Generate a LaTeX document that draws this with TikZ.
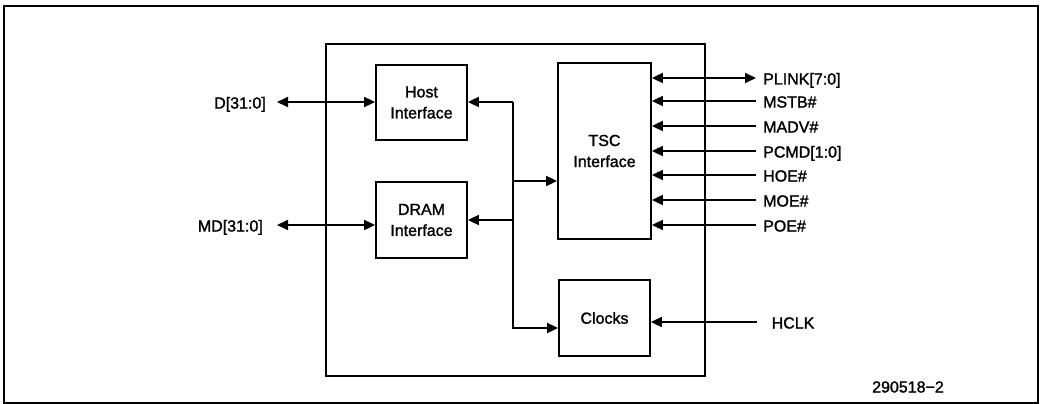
\documentclass[tikz,border=0pt]{standalone}
\usepackage{fontspec}
\setmainfont{Liberation Sans}[FakeBold=1.5]
\usetikzlibrary{arrows.meta}
\begin{document}
\begin{tikzpicture}[x=1pt,y=-1pt,
  wire/.style={line width=1.8pt},
  tipr/.style={wire,-{Triangle[length=11pt,width=10pt]}},
  tipb/.style={wire,{Triangle[length=11pt,width=10pt]}-{Triangle[length=11pt,width=10pt]}},
  txt/.style={font=\fontsize{16}{21}\selectfont,inner sep=0pt},
  blk/.style={draw,line width=1.8pt,inner sep=0pt,align=center,font=\fontsize{16}{21}\selectfont},
  sig/.style={txt,anchor=base west},
  lsig/.style={txt,anchor=base east}]
\useasboundingbox (0,0) rectangle (1042,404);
\draw[line width=1.2pt] (4,6) rectangle (1038,403);
% chip outline
\node[draw,line width=1.8pt,minimum width=379pt,minimum height=332pt,inner sep=0pt] (chip) at (515.5,210) {};
% blocks
\node[blk,minimum width=91pt,minimum height=75pt] (host) at (421.5,102.5) {Host\\Interface};
\node[blk,minimum width=91pt,minimum height=76pt] (dram) at (421.5,220) {DRAM\\Interface};
\node[blk,minimum width=93pt,minimum height=176pt] (tsc) at (604.5,151) {TSC\\Interface};
\node[blk,minimum width=91pt,minimum height=76pt] (clk) at (604.5,318) {\raisebox{-3pt}{Clocks}};
% left signals
\node[lsig] (dl) at (266,108.5) {D[31:0]};
\node[lsig] (mdl) at (263,231.5) {MD[31:0]};
\coordinate (dt) at (277,102);
\coordinate (mdt) at (277,225);
\draw[tipb] (dt) -- (host.west |- dt);
\draw[tipb] (mdt) -- (dram.west |- mdt);
% internal bus
\coordinate (bt) at (513,102);
\coordinate (bm) at (513,220);
\coordinate (bc) at (513,181);
\coordinate (bb) at (513,328);
\draw[tipr] (bt) -- (bb) -- (clk.west |- bb);
\draw[tipr] (bt) -- (host.east |- bt);
\draw[tipr] (bm) -- (dram.east |- bm);
\draw[tipr] (bc) -- (tsc.west |- bc);
% right signals
\foreach \n/\y/\t in {pl/78/{PLINK[7:0]},ms/101/{MSTB\#},ma/126/{MADV\#},pc/151/{PCMD[1:0]},ho/175/{HOE\#},mo/200/{MOE\#},po/225/{POE\#}}{
  \node[sig] (\n l) at (763,\y+6.5) {\t};
  \coordinate (\n) at (756,\y);
}
\draw[tipb] (pl) -- (tsc.east |- pl);
\foreach \n in {ms,ma,pc,ho,mo,po}{
  \draw[tipr] (\n) -- (tsc.east |- \n);
}
\node[sig] (hcl) at (771.5,328.5) {HCLK};
\coordinate (hc) at (757,322);
\draw[tipr] (hc) -- (clk.east |- hc);
\node[txt] (fig) at (908,387) {290518−2};
\end{tikzpicture}
\end{document}
